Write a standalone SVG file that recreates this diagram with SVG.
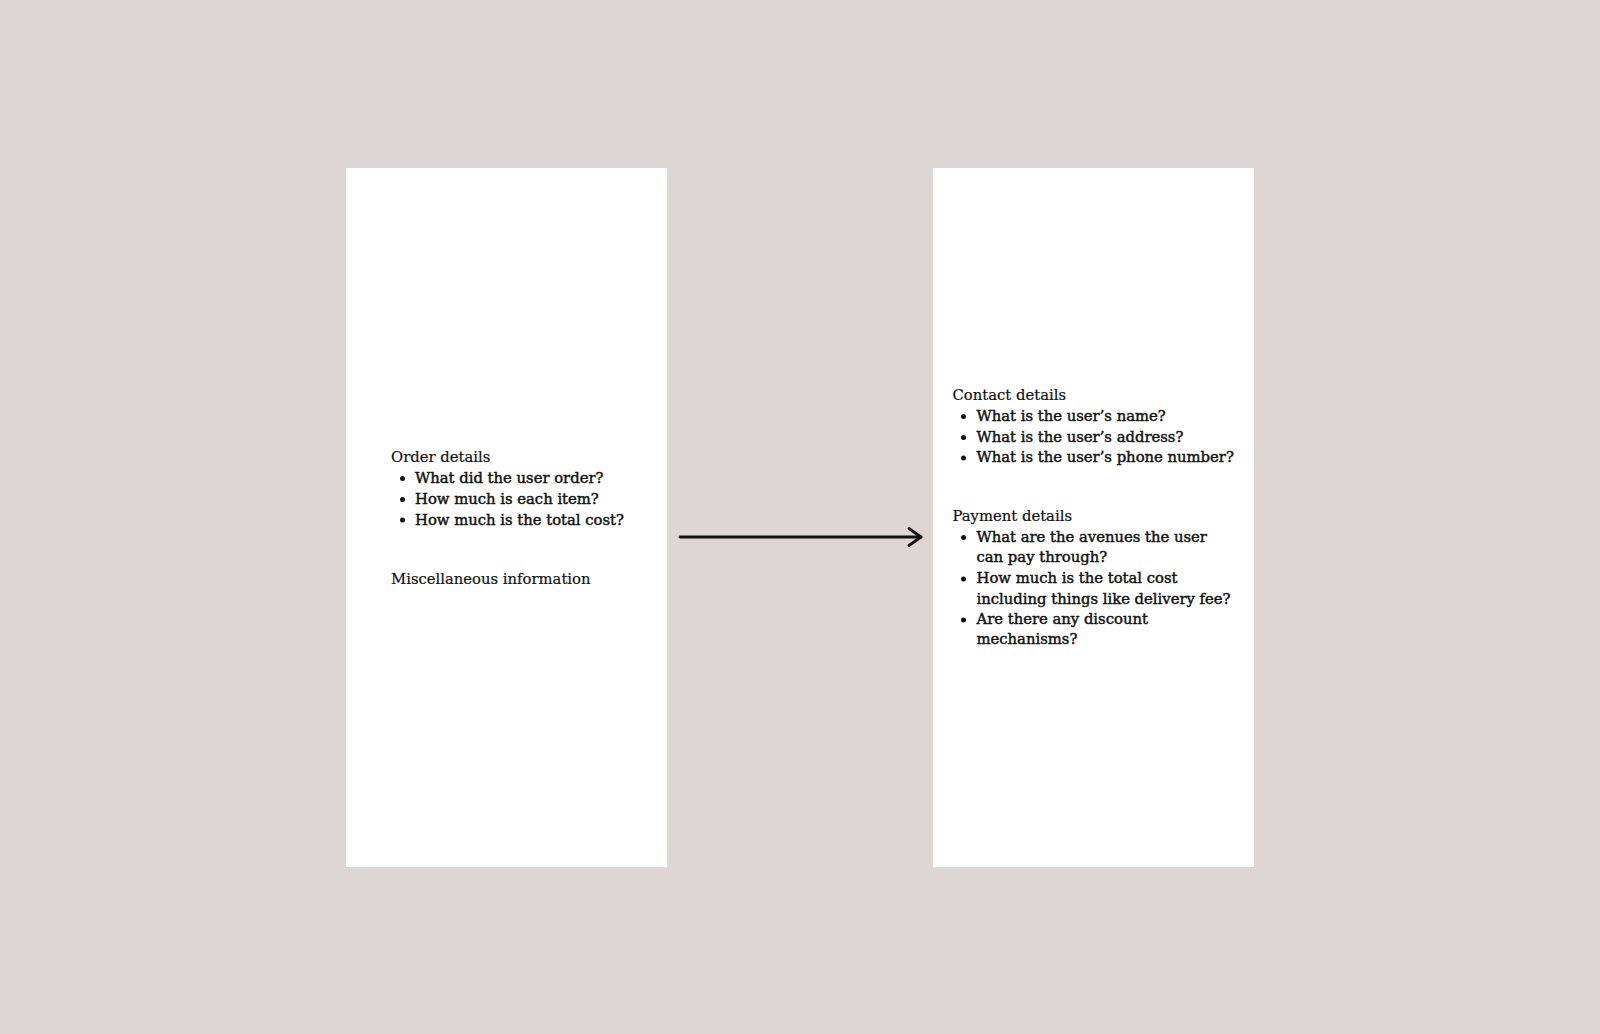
<svg xmlns="http://www.w3.org/2000/svg" width="1600" height="1034" viewBox="0 0 1600 1034">
<style>
.bg{fill:#ded6d5}
.card{fill:#ffffff}
text{font-family:"DejaVu Serif","Liberation Serif",serif;font-size:14.8px;fill:#111;stroke:#111;stroke-width:0.2}
.item{stroke-width:0.45}
.dot{fill:#111}
.conn{stroke:#111;stroke-width:2.8;fill:none;stroke-linecap:round;stroke-linejoin:round}
</style>
<defs>
<marker id="arrow" viewBox="0 0 20 20" refX="17" refY="10" markerWidth="20" markerHeight="20" markerUnits="userSpaceOnUse" orient="auto">
<path d="M5 1.5 L17 10 L5 18.5" fill="none" stroke="#111" stroke-width="2.8" stroke-linecap="round" stroke-linejoin="round"/>
</marker>
</defs>
<rect class="bg" x="0" y="0" width="1600" height="1034"/>
<g id="node-left">
<rect class="card" x="346" y="168" width="321" height="699"/>
<text x="391" y="462">Order details</text>
<circle class="dot" cx="402.5" cy="478.5" r="2.5"/>
<text class="item" x="415" y="483">What did the user order?</text>
<circle class="dot" cx="402.5" cy="499.5" r="2.5"/>
<text class="item" x="415" y="504">How much is each item?</text>
<circle class="dot" cx="402.5" cy="520" r="2.5"/>
<text class="item" x="415" y="524.5">How much is the total cost?</text>
<text x="391" y="584">Miscellaneous information</text>
</g>
<g id="node-right">
<rect class="card" x="933" y="168" width="321" height="699"/>
<text x="952.5" y="400">Contact details</text>
<circle class="dot" cx="963.5" cy="416.5" r="2.5"/>
<text class="item" x="976.5" y="420.7">What is the user’s name?</text>
<circle class="dot" cx="963.5" cy="437.5" r="2.5"/>
<text class="item" x="976.5" y="441.5">What is the user’s address?</text>
<circle class="dot" cx="963.5" cy="458" r="2.5"/>
<text class="item" x="976.5" y="462.3">What is the user’s phone number?</text>
<text x="952.5" y="521">Payment details</text>
<circle class="dot" cx="963.5" cy="537.5" r="2.5"/>
<text class="item" x="976.5" y="541.7">What are the avenues the user</text>
<text class="item" x="976.5" y="562.3">can pay through?</text>
<circle class="dot" cx="963.5" cy="579" r="2.5"/>
<text class="item" x="976.5" y="583">How much is the total cost</text>
<text class="item" x="976.5" y="603.7">including things like delivery fee?</text>
<circle class="dot" cx="963.5" cy="620" r="2.5"/>
<text class="item" x="976.5" y="624">Are there any discount</text>
<text class="item" x="976.5" y="644.3">mechanisms?</text>
</g>
<g id="connectors">
<line class="conn" x1="680" y1="537" x2="921" y2="537" marker-end="url(#arrow)"/>
</g>
</svg>
